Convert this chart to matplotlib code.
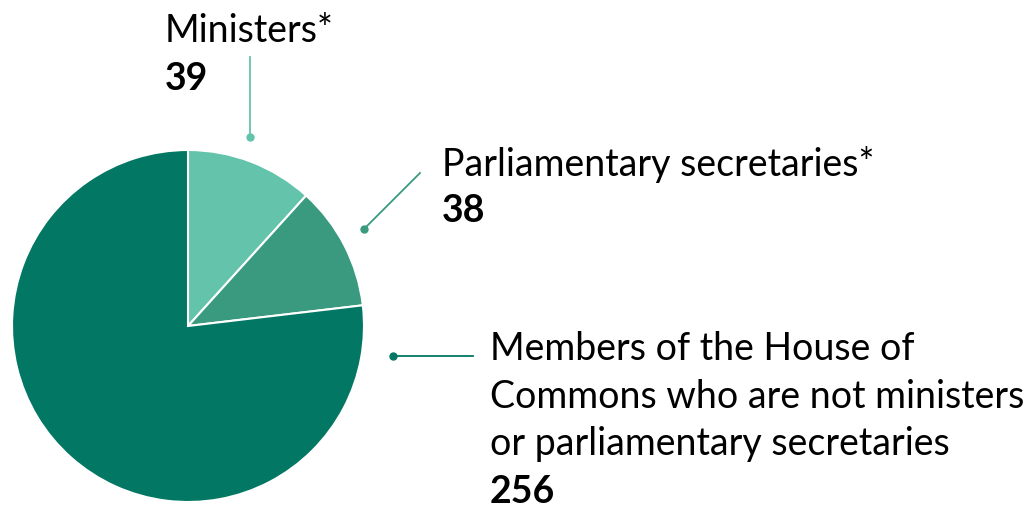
import matplotlib
matplotlib.use("Agg")
import matplotlib.pyplot as plt

categories = ["Ministers*", "Parliamentary secretaries*",
              "Members of the House of Commons who are not ministers or parliamentary secretaries"]
values = [39, 38, 256]
colors = ["#64C3AB", "#3A9A80", "#027763"]

W, H = 1033, 508
fig = plt.figure(figsize=(W / 100, H / 100), dpi=100)
ax = fig.add_axes([0, 0, 1, 1])
ax.set_xlim(0, W)
ax.set_ylim(0, H)
ax.set_aspect("equal")
ax.axis("off")

cx, cy, r = 188, H - 326, 176
ax.pie(values, colors=colors, startangle=90, counterclock=False,
       center=(cx, cy), radius=r, frame=True,
       wedgeprops=dict(edgecolor="white", linewidth=1.5))
ax.set_xlim(0, W)
ax.set_ylim(0, H)
ax.axis("off")

font = "Lato"
fs = 27

def Y(y):
    return H - y

# Ministers
ax.plot([250, 250], [Y(57), Y(137)], color=colors[0], lw=1.3)
ax.plot(250, Y(137), "o", color=colors[0], ms=5)
ax.text(165, Y(42), "Ministers*", fontsize=fs, family=font, va="baseline")
ax.text(165, Y(90), str(values[0]), fontsize=fs, family=font, weight="bold", va="baseline")

# Parliamentary secretaries
ax.plot([420, 364], [Y(173), Y(229)], color=colors[1], lw=1.3)
ax.plot(364, Y(229), "o", color=colors[1], ms=5)
ax.text(442, Y(176), "Parliamentary secretaries*", fontsize=fs, family=font, va="baseline")
ax.text(442, Y(222), str(values[1]), fontsize=fs, family=font, weight="bold", va="baseline")

# Members
ax.plot([473, 393], [Y(356), Y(356)], color=colors[2], lw=1.3)
ax.plot(393, Y(356), "o", color=colors[2], ms=5)
lines = ["Members of the House of", "Commons who are not ministers", "or parliamentary secretaries"]
bases = [360, 408, 455]
for t, b in zip(lines, bases):
    ax.text(490, Y(b), t, fontsize=fs, family=font, va="baseline")
ax.text(490, Y(503), str(values[2]), fontsize=fs, family=font, weight="bold", va="baseline")

fig.savefig("out.png", dpi=100)
